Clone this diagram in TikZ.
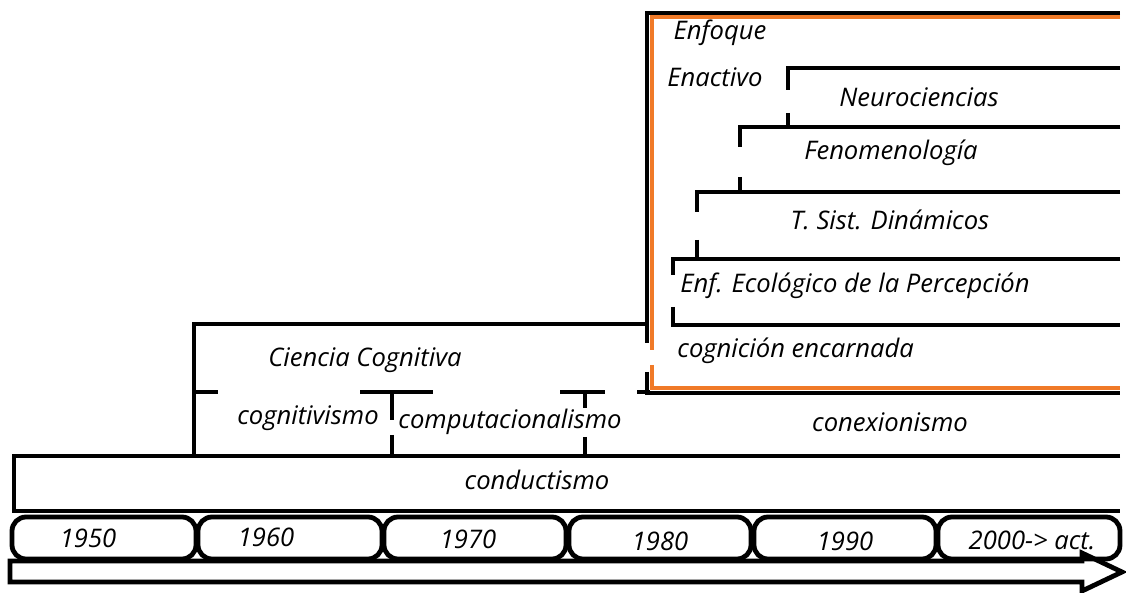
\documentclass[tikz,border=0pt]{standalone}
\usepackage{fontspec}
\setmainfont{Open Sans}
\tikzset{
  band/.style={line width=2.4pt},
  thinband/.style={line width=2pt},
  orangeband/.style={line width=2.4pt, draw={rgb,255:red,240;green,122;blue,40}},
  yearbox/.style={draw, line width=2.4pt, rounded corners=7pt, minimum height=21pt, inner sep=0pt},
  lbl/.style={font=\itshape\fontsize{12.8}{14}\selectfont, inner sep=1pt},
}
\begin{document}
\begin{tikzpicture}[x=0.5pt,y=-0.5pt]
  \useasboundingbox (0,0) rectangle (1126,593);
  % time arrow
  \draw[band] (10,561) -- (1082,561) -- (1082,553) -- (1122,572)
    -- (1082,591) -- (1082,582) -- (10,582) -- cycle;
  % decades
  \node[yearbox, minimum width=92pt] (y1950) at (104,538) {};
  \node[yearbox, minimum width=92pt] (y1960) at (290,538) {};
  \node[yearbox, minimum width=91pt] (y1970) at (475,538) {};
  \node[yearbox, minimum width=91pt] (y1980) at (660,538) {};
  \node[yearbox, minimum width=91pt] (y1990) at (845,538) {};
  \node[yearbox, minimum width=91pt] (y2000) at (1029,538) {};
  \node[lbl] (t1950) at (88,538) {1950};
  \node[lbl] (t1960) at (266,537) {1960};
  \node[lbl] (t1970) at (468,539) {1970};
  \node[lbl] (t1980) at (660,541) {1980};
  \node[lbl] (t1990) at (845,541) {1990};
  \node[lbl] (t2000) at (1032,540) {2000-> act.};
  % conductismo
  \draw[band] (1120,456) -- (14,456) -- (14,511) -- (1120,511);
  \node[lbl] (cond) at (537,480) {conductismo};
  % ciencia cognitiva
  \draw[band] (648,324) -- (194,324) -- (194,456);
  \node[lbl] (cc) at (365,360) {Ciencia Cognitiva};
  \begin{scope}[band]
    \draw (194,392) -- (218,392);
    \draw (360,392) -- (433,392);
    \draw (560,392) -- (605,392);
    \draw (637,392) -- (650,392);
    \draw (392,392) -- (392,420);
    \draw (392,435) -- (392,456);
    \draw (585,392) -- (585,408);
    \draw (585,437) -- (585,456);
  \end{scope}
  \node[lbl] (cogn) at (308,418) {cognitivismo};
  \node[lbl] (comp) at (510,422) {computacionalismo};
  \node[lbl] (conex) at (890,422) {conexionismo};
  % enfoque enactivo
  \draw[thinband] (1120,13) -- (647,13) -- (647,343);
  \draw[thinband] (647,372) -- (647,393) -- (1120,393);
  \draw[orangeband] (1120,17) -- (652,17) -- (652,350);
  \draw[orangeband] (652,365) -- (652,388) -- (1120,388);
  \node[lbl] (enf) at (720,33) {Enfoque};
  \node[lbl] (enac) at (715,77) {Enactivo};
  \begin{scope}[band]
    \draw (1120,68) -- (788,68) -- (788,90);
    \draw (788,113) -- (788,127);
    \draw (1120,127) -- (740,127) -- (740,147);
    \draw (740,177) -- (740,192);
    \draw (1120,192) -- (697,192) -- (697,212);
    \draw (697,240) -- (697,259);
    \draw (1120,259) -- (673,259) -- (673,275);
    \draw (673,307) -- (673,325) -- (1120,325);
  \end{scope}
  \node[lbl] (neuro) at (919,97) {Neurociencias};
  \node[lbl] (fenom) at (891,153) {Fenomenología};
  \node[lbl] (tsd) at (890,220) {T. Sist. Dinámicos};
  \node[lbl, anchor=west] (eco) at (678,286) {Enf. Ecológico de la Percepción};
  \node[lbl, anchor=west] (encar) at (675,351) {cognición encarnada};
\end{tikzpicture}
\end{document}
